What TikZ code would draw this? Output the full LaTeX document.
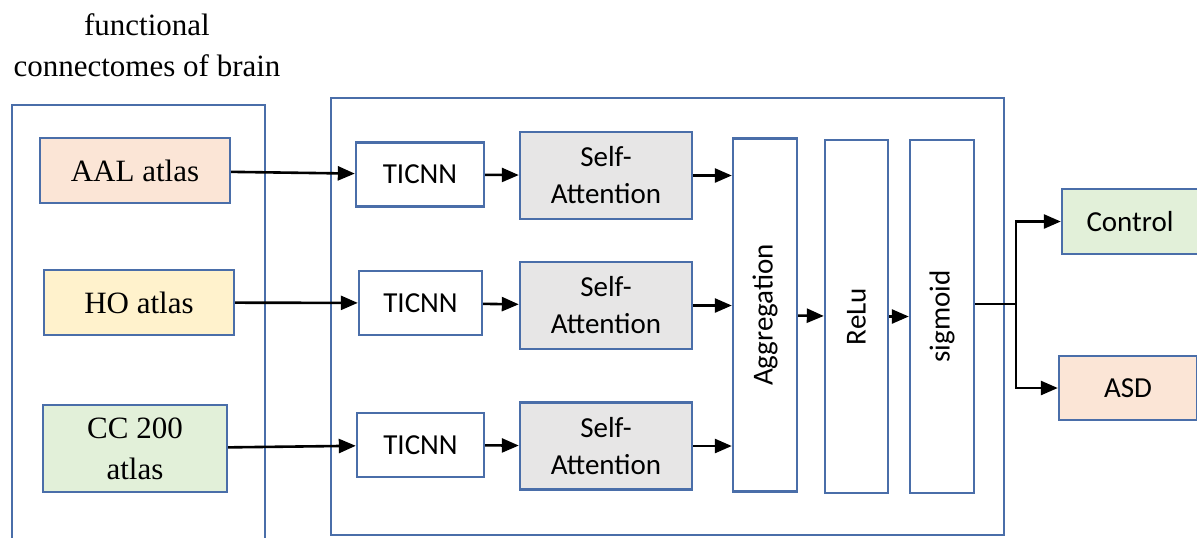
\documentclass[tikz,border=0pt]{standalone}
\usepackage{fontspec}
\setmainfont{Liberation Serif}
\newfontfamily\labelfont{Carlito}
\usepackage{tikz}
\usetikzlibrary{arrows.meta}

\definecolor{boxblue}{HTML}{4A6EA9}
\definecolor{aalfill}{HTML}{FBE5D6}
\definecolor{hofill}{HTML}{FFF2CC}
\definecolor{ccfill}{HTML}{E2F0D9}
\definecolor{safill}{HTML}{E7E6E6}

\begin{document}
\begin{tikzpicture}[
  x=0.5pt, y=-0.5pt,
  font=\fontsize{15.5}{20.5}\selectfont,
  atlas/.style={draw=boxblue, line width=1.2pt, align=center, minimum width=95pt, minimum height=32.5pt, inner sep=2pt},
  blk/.style={draw=boxblue, line width=1.2pt, align=center, font=\labelfont\fontsize{14.5}{18.5}\selectfont, minimum width=64pt, minimum height=32pt, inner sep=2pt},
  att/.style={blk, fill=safill, minimum width=86pt, minimum height=43.5pt},
  layer/.style={blk, minimum width=32pt, minimum height=176.5pt},
  frame/.style={draw=boxblue, line width=1.2pt},
  arr/.style={-{Triangle[length=8.5pt, width=7pt]}, line width=1.3pt}
]
  \clip (0,0) rectangle (1197,537);

  % input side
  \node[align=center] (title) at (147,45) {functional\\connectomes of brain};
  \draw[frame] (12,540) -- (12,105) -- (265,105) -- (265,540);
  \node[atlas, fill=aalfill] (aal) at (135,170.5) {AAL atlas};
  \node[atlas, fill=hofill] (ho) at (139,302.5) {HO atlas};
  \node[atlas, fill=ccfill, minimum width=92pt, minimum height=43.5pt] (cc) at (135,448.5) {CC 200\\atlas};

  % model
  \node[frame, minimum width=336.5pt, minimum height=218.5pt] (model) at (667.5,316.5) {};
  \node[blk] (ticnn1) at (420,174.5) {TICNN};
  \node[blk, minimum width=61.5pt] (ticnn2) at (420.5,303) {TICNN};
  \node[blk, minimum width=63.5pt] (ticnn3) at (420.5,445) {TICNN};
  \node[att] (sa1) at (606,175.5) {Self-\\Attention};
  \node[att] (sa2) at (606,305.5) {Self-\\Attention};
  \node[att] (sa3) at (606,446) {Self-\\Attention};
  \node[layer] (agg) at (765,315) {\rotatebox{90}{Aggregation}};
  \node[layer, minimum width=31.5pt] (relu) at (856.5,316.5) {\rotatebox{90}{ReLu}};
  \node[layer] (sig) at (942,316.5) {\rotatebox{90}{sigmoid}};

  % outputs
  \node[blk, fill=ccfill, minimum width=68pt, minimum height=32.5pt] (ctrl) at (1130,221.5) {Control};
  \node[blk, fill=aalfill, minimum width=69pt, minimum height=32pt] (asd) at (1128,388) {ASD};
  \coordinate (split) at (1016,304);

  \draw[arr] (aal) -- (ticnn1);
  \draw[arr] (ho) -- (ticnn2);
  \draw[arr] (cc) -- (ticnn3);
  \draw[arr] (ticnn1) -- (sa1);
  \draw[arr] (ticnn2) -- (sa2);
  \draw[arr] (ticnn3) -- (sa3);
  \draw[arr] (sa1.east) -- (sa1.east -| agg.west);
  \draw[arr] (sa2.east) -- (sa2.east -| agg.west);
  \draw[arr] (sa3.east) -- (sa3.east -| agg.west);
  \draw[arr] (agg) -- (relu);
  \draw[arr] (relu) -- (sig);
  \draw[line width=1.3pt] (sig.east |- split) -- (split);
  \draw[arr] (split) |- (ctrl.west);
  \draw[arr] (split) |- (asd.west);
\end{tikzpicture}
\end{document}
